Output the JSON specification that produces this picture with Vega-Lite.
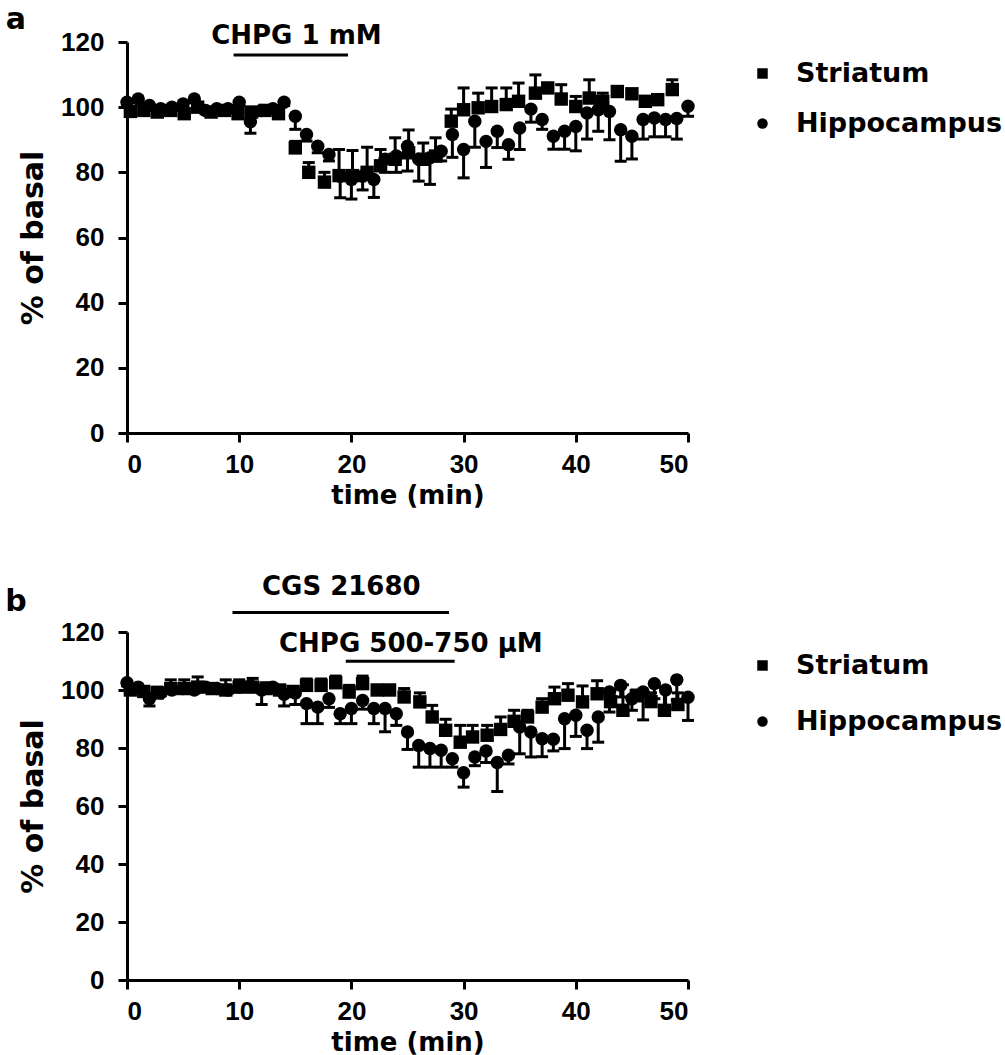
{
  "$schema": "https://vega.github.io/schema/vega-lite/v6.json",
  "background": "white",
  "padding": {"left": 5, "top": 5, "right": 0, "bottom": 0},
  "config": {
    "view": {"stroke": null},
    "axis": {"grid": false, "domainColor": "black", "domainWidth": 3, "tickColor": "black", "tickWidth": 3, "tickSize": 9,
      "labelFont": "Liberation Sans", "labelFontWeight": "bold", "labelFontSize": 26, "labelColor": "black",
      "titleFont": "DejaVu Sans", "titleFontWeight": "bold", "titleFontSize": 26, "titleColor": "black"},
    "legend": {"labelFont": "DejaVu Sans", "labelFontWeight": "bold", "labelFontSize": 27, "labelColor": "black", "labelLimit": 0}
  },
  "datasets": {
    "a": [
      {"series":"Striatum","t":0.3,"v":98.7,"yb":99.7},{"series":"Striatum","t":1.5,"v":99,"yb":100},{"series":"Striatum","t":2.7,"v":98.5,"yb":99.5},{"series":"Striatum","t":3.9,"v":99,"yb":100},{"series":"Striatum","t":5.1,"v":98,"yb":99},{"series":"Striatum","t":6.3,"v":100,"yb":101},{"series":"Striatum","t":7.5,"v":98.5,"yb":99.5},{"series":"Striatum","t":8.7,"v":99,"yb":100},{"series":"Striatum","t":9.9,"v":98,"yb":99},{"series":"Striatum","t":11.1,"v":98.5,"yb":99.5},{"series":"Striatum","t":12.3,"v":99,"yb":100},{"series":"Striatum","t":13.5,"v":98,"yb":99.5},{"series":"Striatum","t":15.0,"v":87.5,"yb":89.5},{"series":"Striatum","t":16.2,"v":80,"yb":83},{"series":"Striatum","t":17.6,"v":77,"yb":80},{"series":"Striatum","t":18.9,"v":79,"yb":87},{"series":"Striatum","t":20.1,"v":79,"yb":86.7},{"series":"Striatum","t":21.4,"v":80,"yb":87.7},{"series":"Striatum","t":22.6,"v":82,"yb":87},{"series":"Striatum","t":23.9,"v":84,"yb":90.6},{"series":"Striatum","t":25.1,"v":86,"yb":93},{"series":"Striatum","t":26.4,"v":84,"yb":89},{"series":"Striatum","t":27.5,"v":85,"yb":90.6},{"series":"Striatum","t":28.9,"v":95.7,"yb":99.4},{"series":"Striatum","t":30.0,"v":99.2,"yb":105.9},{"series":"Striatum","t":31.3,"v":99.8,"yb":104.3},{"series":"Striatum","t":32.5,"v":100.2,"yb":105.9},{"series":"Striatum","t":33.8,"v":100.8,"yb":105.9},{"series":"Striatum","t":34.9,"v":101.8,"yb":107.4},{"series":"Striatum","t":36.4,"v":104.3,"yb":109.9},{"series":"Striatum","t":37.5,"v":105.9,"yb":106.4},{"series":"Striatum","t":38.7,"v":102.5,"yb":106.9},{"series":"Striatum","t":40.0,"v":100.2,"yb":103.3},{"series":"Striatum","t":41.2,"v":102.8,"yb":108.4},{"series":"Striatum","t":42.4,"v":101.8,"yb":104.3},{"series":"Striatum","t":43.7,"v":104.8,"yb":105.3},{"series":"Striatum","t":45.0,"v":104.1,"yb":104.6},{"series":"Striatum","t":46.2,"v":101.8,"yb":102.3},{"series":"Striatum","t":47.3,"v":102.3,"yb":102.8},{"series":"Striatum","t":48.6,"v":105.4,"yb":108.4},
      {"series":"Hippocampus","t":0,"v":101.5,"yb":100},{"series":"Hippocampus","t":1,"v":102.5,"yb":101.5},{"series":"Hippocampus","t":2,"v":100.5,"yb":99.5},{"series":"Hippocampus","t":3,"v":99.5,"yb":98.5},{"series":"Hippocampus","t":4,"v":100,"yb":99},{"series":"Hippocampus","t":5,"v":101,"yb":100},{"series":"Hippocampus","t":6,"v":102.5,"yb":101.5},{"series":"Hippocampus","t":7,"v":99,"yb":98},{"series":"Hippocampus","t":8,"v":99.5,"yb":98.5},{"series":"Hippocampus","t":9,"v":99.5,"yb":98.5},{"series":"Hippocampus","t":10,"v":101.5,"yb":100.5},{"series":"Hippocampus","t":11,"v":95.5,"yb":92},{"series":"Hippocampus","t":12,"v":99,"yb":97.5},{"series":"Hippocampus","t":13,"v":99.5,"yb":98.5},{"series":"Hippocampus","t":14,"v":101.5,"yb":100.5},{"series":"Hippocampus","t":15,"v":97.2,"yb":93.2},{"series":"Hippocampus","t":16,"v":91.6,"yb":89.6},{"series":"Hippocampus","t":17,"v":88,"yb":86},{"series":"Hippocampus","t":18,"v":85.5,"yb":83.5},{"series":"Hippocampus","t":19,"v":78.8,"yb":72.2},{"series":"Hippocampus","t":20,"v":77.8,"yb":71.8},{"series":"Hippocampus","t":21,"v":78.8,"yb":74.6},{"series":"Hippocampus","t":22,"v":77.8,"yb":72.3},{"series":"Hippocampus","t":23,"v":84,"yb":80},{"series":"Hippocampus","t":24,"v":85,"yb":80},{"series":"Hippocampus","t":25,"v":88,"yb":80.4},{"series":"Hippocampus","t":26,"v":84,"yb":77.3},{"series":"Hippocampus","t":27,"v":84.5,"yb":76.3},{"series":"Hippocampus","t":28,"v":86.5,"yb":83.5},{"series":"Hippocampus","t":29,"v":91.6,"yb":84.6},{"series":"Hippocampus","t":30,"v":87,"yb":78.3},{"series":"Hippocampus","t":31,"v":95.7,"yb":87.7},{"series":"Hippocampus","t":32,"v":89.5,"yb":81.5},{"series":"Hippocampus","t":33,"v":92.6,"yb":87.6},{"series":"Hippocampus","t":34,"v":88.5,"yb":84},{"series":"Hippocampus","t":35,"v":93.6,"yb":87},{"series":"Hippocampus","t":36,"v":99.4,"yb":95.4},{"series":"Hippocampus","t":37,"v":96.2,"yb":93.2},{"series":"Hippocampus","t":38,"v":91.1,"yb":87.1},{"series":"Hippocampus","t":39,"v":92.6,"yb":87.1},{"series":"Hippocampus","t":40,"v":94.1,"yb":86.6},{"series":"Hippocampus","t":41,"v":98.2,"yb":90.2},{"series":"Hippocampus","t":42,"v":99.2,"yb":92.6},{"series":"Hippocampus","t":43,"v":98.7,"yb":90},{"series":"Hippocampus","t":44,"v":93.1,"yb":83.4},{"series":"Hippocampus","t":45,"v":91.1,"yb":84.1},{"series":"Hippocampus","t":46,"v":96.2,"yb":90.2},{"series":"Hippocampus","t":47,"v":96.7,"yb":90.9},{"series":"Hippocampus","t":48,"v":96.2,"yb":90.9},{"series":"Hippocampus","t":49,"v":96.5,"yb":90.2},{"series":"Hippocampus","t":50,"v":100.3,"yb":97.2}
    ],
    "b": [
      {"series":"Striatum","t":0.3,"v":100,"yb":101},{"series":"Striatum","t":1.5,"v":99.5,"yb":101},{"series":"Striatum","t":2.7,"v":99,"yb":101},{"series":"Striatum","t":3.9,"v":100.5,"yb":103.5},{"series":"Striatum","t":5.1,"v":100.5,"yb":103.5},{"series":"Striatum","t":6.3,"v":101,"yb":104.5},{"series":"Striatum","t":7.6,"v":100.5,"yb":102},{"series":"Striatum","t":8.8,"v":100,"yb":103.5},{"series":"Striatum","t":10.0,"v":101,"yb":103.5},{"series":"Striatum","t":11.2,"v":101,"yb":104},{"series":"Striatum","t":12.4,"v":100.5,"yb":102.5},{"series":"Striatum","t":13.6,"v":100,"yb":101},{"series":"Striatum","t":14.8,"v":99.5,"yb":100.5},{"series":"Striatum","t":16.0,"v":101.6,"yb":103.8},{"series":"Striatum","t":17.3,"v":101.6,"yb":103.8},{"series":"Striatum","t":18.6,"v":102.5,"yb":104.8},{"series":"Striatum","t":19.8,"v":99.3,"yb":101.6},{"series":"Striatum","t":21.0,"v":102.2,"yb":104.8},{"series":"Striatum","t":22.3,"v":100,"yb":101.6},{"series":"Striatum","t":23.4,"v":100,"yb":101.6},{"series":"Striatum","t":24.7,"v":97.6,"yb":100.5},{"series":"Striatum","t":26.1,"v":95.9,"yb":99},{"series":"Striatum","t":27.2,"v":90.7,"yb":94.7},{"series":"Striatum","t":28.4,"v":86.1,"yb":89.9},{"series":"Striatum","t":29.7,"v":82,"yb":87.8},{"series":"Striatum","t":30.8,"v":83.8,"yb":87.8},{"series":"Striatum","t":32.1,"v":84.4,"yb":87.8},{"series":"Striatum","t":33.3,"v":86.4,"yb":90.7},{"series":"Striatum","t":34.5,"v":89.2,"yb":93},{"series":"Striatum","t":35.7,"v":90.7,"yb":93},{"series":"Striatum","t":37.0,"v":94.1,"yb":97},{"series":"Striatum","t":38.1,"v":97,"yb":101},{"series":"Striatum","t":39.3,"v":98.2,"yb":102.2},{"series":"Striatum","t":40.6,"v":95.9,"yb":101.4},{"series":"Striatum","t":41.9,"v":98.7,"yb":103.2},{"series":"Striatum","t":43.1,"v":96,"yb":100},{"series":"Striatum","t":44.2,"v":93,"yb":101.8},{"series":"Striatum","t":45.4,"v":98,"yb":100},{"series":"Striatum","t":46.7,"v":96,"yb":99},{"series":"Striatum","t":47.9,"v":93,"yb":101},{"series":"Striatum","t":49.1,"v":95,"yb":99},
      {"series":"Hippocampus","t":0,"v":102.5,"yb":101.5},{"series":"Hippocampus","t":1,"v":101,"yb":100},{"series":"Hippocampus","t":2,"v":97,"yb":94.5},{"series":"Hippocampus","t":3,"v":99,"yb":98},{"series":"Hippocampus","t":4,"v":100,"yb":99},{"series":"Hippocampus","t":5,"v":100.5,"yb":99.5},{"series":"Hippocampus","t":6,"v":100,"yb":99},{"series":"Hippocampus","t":7,"v":101,"yb":99.5},{"series":"Hippocampus","t":8,"v":100.5,"yb":99.5},{"series":"Hippocampus","t":9,"v":100,"yb":99},{"series":"Hippocampus","t":10,"v":101,"yb":100},{"series":"Hippocampus","t":11,"v":101.5,"yb":100},{"series":"Hippocampus","t":12,"v":100,"yb":95},{"series":"Hippocampus","t":13,"v":101,"yb":100},{"series":"Hippocampus","t":14,"v":98.5,"yb":94.5},{"series":"Hippocampus","t":15,"v":99,"yb":95},{"series":"Hippocampus","t":16,"v":95.3,"yb":88.4},{"series":"Hippocampus","t":17,"v":94.1,"yb":88.4},{"series":"Hippocampus","t":18,"v":97,"yb":94},{"series":"Hippocampus","t":19,"v":91.8,"yb":88.4},{"series":"Hippocampus","t":20,"v":93.6,"yb":88.4},{"series":"Hippocampus","t":21,"v":96.4,"yb":93.4},{"series":"Hippocampus","t":22,"v":93.6,"yb":88.4},{"series":"Hippocampus","t":23,"v":93.6,"yb":85.6},{"series":"Hippocampus","t":24,"v":91.8,"yb":87.8},{"series":"Hippocampus","t":25,"v":85.5,"yb":79.5},{"series":"Hippocampus","t":26,"v":80.9,"yb":73.4},{"series":"Hippocampus","t":27,"v":79.8,"yb":73.4},{"series":"Hippocampus","t":28,"v":79.2,"yb":73.4},{"series":"Hippocampus","t":29,"v":76.3,"yb":73.4},{"series":"Hippocampus","t":30,"v":71.5,"yb":66.5},{"series":"Hippocampus","t":31,"v":76.9,"yb":73.9},{"series":"Hippocampus","t":32,"v":79,"yb":75},{"series":"Hippocampus","t":33,"v":75,"yb":65},{"series":"Hippocampus","t":34,"v":77.5,"yb":74.5},{"series":"Hippocampus","t":35,"v":87.2,"yb":78},{"series":"Hippocampus","t":36,"v":85.5,"yb":76.9},{"series":"Hippocampus","t":37,"v":83.2,"yb":77},{"series":"Hippocampus","t":38,"v":83,"yb":79},{"series":"Hippocampus","t":39,"v":90.1,"yb":79.8},{"series":"Hippocampus","t":40,"v":91.3,"yb":84},{"series":"Hippocampus","t":41,"v":86.1,"yb":79.8},{"series":"Hippocampus","t":42,"v":90.7,"yb":82},{"series":"Hippocampus","t":43,"v":99.3,"yb":92.4},{"series":"Hippocampus","t":44,"v":101.6,"yb":97.6},{"series":"Hippocampus","t":45,"v":97,"yb":93},{"series":"Hippocampus","t":46,"v":99.3,"yb":89.7},{"series":"Hippocampus","t":47,"v":102.2,"yb":97},{"series":"Hippocampus","t":48,"v":100,"yb":93.6},{"series":"Hippocampus","t":49,"v":103.5,"yb":96.5},{"series":"Hippocampus","t":50,"v":97.5,"yb":89.5}
    ],
    "annA_text": [{"x":15.1,"y":121.8,"label":"CHPG 1 mM","size":26},{"x":-9.9,"y":126.7,"label":"a","size":30}],
    "annA_line": [{"x":9.5,"x2":19.7,"y":116}],
    "annB_text": [{"x":19.1,"y":135.5,"label":"CGS 21680","size":26},{"x":25.3,"y":116,"label":"CHPG 500-750 µM","size":26},{"x":-9.9,"y":130.3,"label":"b","size":30}],
    "annB_line": [{"x":9.4,"x2":28.7,"y":126.7},{"x":19.5,"x2":29.2,"y":109.9}]
  },
  "spacing": 66,
  "resolve": {"scale": {"shape": "independent"}, "legend": {"shape": "independent"}},
  "vconcat": [
    {
      "width": 561, "height": 391,
      "layer": [
        {"data": {"name": "a"}, "mark": {"type": "rule", "strokeWidth": 3, "color": "black", "opacity": 1},
         "encoding": {
           "x": {"field": "t", "type": "quantitative", "title": "time (min)", "scale": {"domain": [0, 50], "nice": false}, "axis": {"values": [0,10,20,30,40,50], "labelPadding": 9, "titlePadding": 5}},
           "y": {"field": "v", "type": "quantitative", "title": "% of basal", "scale": {"domain": [0, 120], "nice": false}, "axis": {"values": [0,20,40,60,80,100,120], "labelPadding": 14, "titlePadding": 12, "titleFontSize": 30}},
           "y2": {"field": "yb"}}},
        {"data": {"name": "a"}, "mark": {"type": "tick", "orient": "horizontal", "size": 12, "thickness": 3, "color": "black", "opacity": 1},
         "encoding": {"x": {"field": "t", "type": "quantitative", "title": "time (min)"}, "y": {"field": "yb", "type": "quantitative", "title": "% of basal"}}},
        {"data": {"name": "a"}, "mark": {"type": "point", "filled": true, "opacity": 1, "color": "black", "size": 180},
         "encoding": {"x": {"field": "t", "type": "quantitative", "title": "time (min)"}, "y": {"field": "v", "type": "quantitative", "title": "% of basal"},
           "shape": {"field": "series", "type": "nominal", "scale": {"domain": ["Striatum", "Hippocampus"], "range": ["square", "circle"]},
             "legend": {"title": null, "orient": "none", "legendX": 622, "legendY": 18, "symbolSize": 110, "symbolFillColor": "black", "symbolStrokeColor": "black", "symbolOpacity": 1, "labelOffset": 20, "rowPadding": 22}}}},
        {"data": {"name": "annA_line"}, "mark": {"type": "rule", "strokeWidth": 3, "color": "black"},
         "encoding": {"x": {"field": "x", "type": "quantitative"}, "x2": {"field": "x2"}, "y": {"field": "y", "type": "quantitative"}}},
        {"data": {"name": "annA_text"}, "mark": {"type": "text", "font": "DejaVu Sans", "fontWeight": "bold", "color": "black", "baseline": "middle", "align": "center"},
         "encoding": {"x": {"field": "x", "type": "quantitative"}, "y": {"field": "y", "type": "quantitative"}, "text": {"field": "label"}, "size": {"field": "size", "type": "quantitative", "scale": null}}}
      ]
    },
    {
      "width": 561, "height": 348,
      "layer": [
        {"data": {"name": "b"}, "mark": {"type": "rule", "strokeWidth": 3, "color": "black", "opacity": 1},
         "encoding": {
           "x": {"field": "t", "type": "quantitative", "title": "time (min)", "scale": {"domain": [0, 50], "nice": false}, "axis": {"values": [0,10,20,30,40,50], "labelPadding": 9, "titlePadding": 5}},
           "y": {"field": "v", "type": "quantitative", "title": "% of basal", "scale": {"domain": [0, 120], "nice": false}, "axis": {"values": [0,20,40,60,80,100,120], "labelPadding": 14, "titlePadding": 12, "titleFontSize": 30}},
           "y2": {"field": "yb"}}},
        {"data": {"name": "b"}, "mark": {"type": "tick", "orient": "horizontal", "size": 12, "thickness": 3, "color": "black", "opacity": 1},
         "encoding": {"x": {"field": "t", "type": "quantitative", "title": "time (min)"}, "y": {"field": "yb", "type": "quantitative", "title": "% of basal"}}},
        {"data": {"name": "b"}, "mark": {"type": "point", "filled": true, "opacity": 1, "color": "black", "size": 180},
         "encoding": {"x": {"field": "t", "type": "quantitative", "title": "time (min)"}, "y": {"field": "v", "type": "quantitative", "title": "% of basal"},
           "shape": {"field": "series", "type": "nominal", "scale": {"domain": ["Striatum", "Hippocampus"], "range": ["square", "circle"]},
             "legend": {"title": null, "orient": "none", "legendX": 622, "legendY": 20, "symbolSize": 110, "symbolFillColor": "black", "symbolStrokeColor": "black", "symbolOpacity": 1, "labelOffset": 20, "rowPadding": 28}}}},
        {"data": {"name": "annB_line"}, "mark": {"type": "rule", "strokeWidth": 3, "color": "black"},
         "encoding": {"x": {"field": "x", "type": "quantitative"}, "x2": {"field": "x2"}, "y": {"field": "y", "type": "quantitative"}}},
        {"data": {"name": "annB_text"}, "mark": {"type": "text", "font": "DejaVu Sans", "fontWeight": "bold", "color": "black", "baseline": "middle", "align": "center"},
         "encoding": {"x": {"field": "x", "type": "quantitative"}, "y": {"field": "y", "type": "quantitative"}, "text": {"field": "label"}, "size": {"field": "size", "type": "quantitative", "scale": null}}}
      ]
    }
  ]
}
